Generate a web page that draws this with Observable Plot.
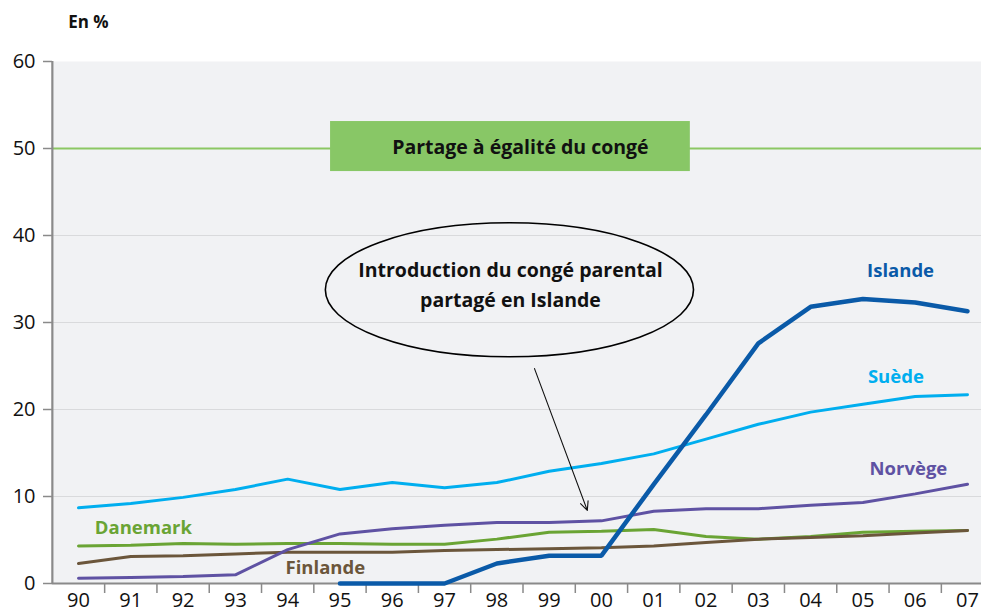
<!DOCTYPE html>
<html>
<head>
<meta charset="utf-8">
<script src="https://cdn.jsdelivr.net/npm/d3@7"></script>
<script src="https://cdn.jsdelivr.net/npm/@observablehq/plot@0.6"></script>
<style>
  html, body { margin: 0; padding: 0; background: #fff; }
  #chart { width: 981px; height: 613px; overflow: hidden; }
</style>
</head>
<body>
<div id="chart"></div>
<script>
// Years (tick labels)
const years = ["90","91","92","93","94","95","96","97","98","99","00","01","02","03","04","05","06","07"];

// Share of parental leave days taken by fathers (%)
const islande  = [null,null,null,null,null,0,0,0,2.3,3.2,3.2,11.4,19.4,27.6,31.8,32.7,32.3,31.3];
const suede    = [8.7,9.2,9.9,10.8,12.0,10.8,11.6,11.0,11.6,12.9,13.8,14.9,16.6,18.3,19.7,20.6,21.5,21.7];
const norvege  = [0.6,0.7,0.8,1.0,3.9,5.7,6.3,6.7,7.0,7.0,7.2,8.3,8.6,8.6,9.0,9.3,10.3,11.4];
const danemark = [4.3,4.4,4.6,4.5,4.6,4.6,4.5,4.5,5.1,5.9,6.0,6.2,5.4,5.1,5.4,5.9,6.0,6.1];
const finlande = [2.3,3.1,3.2,3.4,3.6,3.6,3.6,3.8,3.9,4.0,4.1,4.3,4.7,5.1,5.3,5.5,5.8,6.1];

const yTicks = [0,10,20,30,40,50,60];
const equalShare = 50;

const series = [
  {name: "Danemark", values: danemark, color: "#6aa434", width: 3},
  {name: "Finlande", values: finlande, color: "#6b563b", width: 3},
  {name: "Suède",    values: suede,    color: "#00aeef", width: 3},
  {name: "Norvège",  values: norvege,  color: "#5f52a3", width: 3},
  {name: "Islande",  values: islande,  color: "#0a5aa8", width: 4.5}
];
const table = s => s.values.map((v, i) => ({i, v, year: years[i]})).filter(d => d.v != null);

const font = "'Open Sans', 'Noto Sans', sans-serif";

const ellipseMark = (index, scales) => {
  const ns = "http://www.w3.org/2000/svg";
  const cx = scales.x(8.25), cy = scales.y(33.7);
  const e = document.createElementNS(ns, "ellipse");
  e.setAttribute("cx", cx);
  e.setAttribute("cy", cy);
  e.setAttribute("rx", scales.x(8.25 + 3.52) - cx);
  e.setAttribute("ry", cy - scales.y(33.7 + 7.7));
  e.setAttribute("fill", "none");
  e.setAttribute("stroke", "#000");
  e.setAttribute("stroke-width", "1.6");
  return e;
};

const chart = Plot.plot({
  width: 981,
  height: 613,
  marginTop: 61,
  marginBottom: 30,
  marginLeft: 52,
  marginRight: 0,
  style: {fontFamily: font, background: "#fff", overflow: "visible"},
  x: {type: "linear", domain: [0, 17], range: [78, 967], axis: null, label: null},
  y: {domain: [0, 60], range: [583, 61], axis: null, label: null},
  marks: [
    Plot.frame({fill: "#f1f2f4", stroke: null}),
    Plot.ruleY([10, 20, 30, 40], {stroke: "#d9dadc", strokeWidth: 1.2}),
    Plot.ruleY([equalShare], {stroke: "#8cc763", strokeWidth: 2}),
    // green box
    Plot.rect([0], {x1: 4.82, x2: 11.7, y1: 47.35, y2: 53.1, fill: "#88c766"}),
    Plot.text(["Partage à égalité du congé"], {x: 8.45, y: 50.05, text: d => d, fontSize: 19.5, fontWeight: 700, fill: "#111", fontFamily: font}),
    // axes
    Plot.axisY(yTicks, {anchor: "left", label: null, tickSize: 9, tickPadding: 8, fontSize: 20, stroke: "#8a8a8a", strokeWidth: 1.5, fill: "#111", tickFormat: d => d, fontFamily: font}),
    Plot.axisX(d3.range(0.5, 17, 1), {anchor: "bottom", label: null, tickSize: 10, stroke: "#8a8a8a", strokeWidth: 1.5, tickFormat: () => ""}),
    Plot.axisX(d3.range(0, 18), {anchor: "bottom", label: null, tickSize: 0, tickPadding: 9, fontSize: 20, fill: "#111", tickFormat: i => years[i], fontFamily: font}),
    Plot.ruleX([-0.5], {y1: 0, y2: 60, stroke: "#8a8a8a", strokeWidth: 2.2}),
    Plot.ruleY([0], {x1: -0.5, x2: 18, stroke: "#8a8a8a", strokeWidth: 2.2}),
    // series lines
    ...series.map(s => Plot.line(table(s), {x: "i", y: "v", stroke: s.color, strokeWidth: s.width, strokeLinejoin: "miter"})),
    // series labels
    Plot.text(["Islande"], {x: 15.72, y: 35.9, text: d => d, fill: "#0a5aa8", fontSize: 18.5, fontWeight: 700, fontFamily: font}),
    Plot.text(["Suède"], {x: 15.63, y: 23.75, text: d => d, fill: "#00aeef", fontSize: 18.5, fontWeight: 700, fontFamily: font}),
    Plot.text(["Norvège"], {x: 15.87, y: 13.1, text: d => d, fill: "#5f52a3", fontSize: 18.5, fontWeight: 700, fontFamily: font}),
    Plot.text(["Danemark"], {x: 1.24, y: 6.35, text: d => d, fill: "#6aa434", fontSize: 18.5, fontWeight: 700, fontFamily: font}),
    Plot.text(["Finlande"], {x: 4.72, y: 1.75, text: d => d, fill: "#6b563b", fontSize: 18.5, fontWeight: 700, fontFamily: font}),
    // annotation
    ellipseMark,
    Plot.text(["Introduction du congé parental"], {x: 8.26, y: 35.9, text: d => d, fontSize: 19.5, fontWeight: 700, fill: "#111", fontFamily: font}),
    Plot.text(["partagé en Islande"], {x: 8.26, y: 32.5, text: d => d, fontSize: 19.5, fontWeight: 700, fill: "#111", fontFamily: font}),
    Plot.arrow([0], {x1: 8.72, y1: 24.7, x2: 9.73, y2: 8.4, stroke: "#111", strokeWidth: 1.1, headLength: 13, headAngle: 50}),
    // unit label
    Plot.text(["En %"], {x: 0.19, y: 64.5, text: d => d, fontSize: 17, fontWeight: 700, fill: "#111", fontFamily: font})
  ]
});
document.getElementById("chart").appendChild(chart);
</script>
</body>
</html>
